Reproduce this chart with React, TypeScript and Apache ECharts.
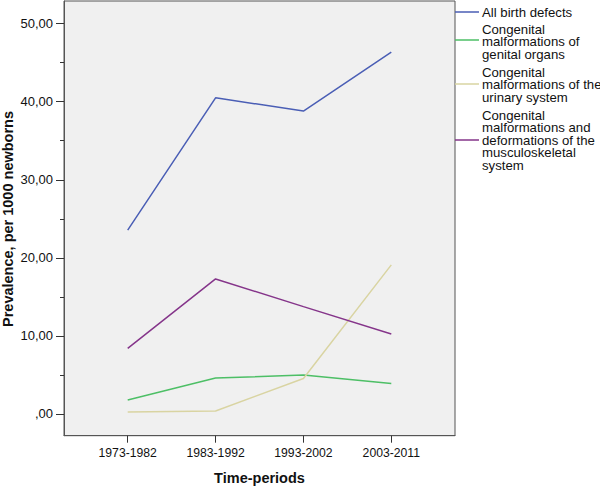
import React, { useEffect, useRef } from "react";
import * as echarts from "echarts";

const categories = ["1973-1982", "1983-1992", "1993-2002", "2003-2011"];
const seriesNames = [
  "All birth defects",
  "Congenital malformations of genital organs",
  "Congenital malformations of the urinary system",
  "Congenital malformations and deformations of the musculoskeletal system",
];
const legendLabels = [
  ["All birth defects"],
  ["Congenital", "malformations of", "genital organs"],
  ["Congenital", "malformations of the", "urinary system"],
  ["Congenital", "malformations and", "deformations of the", "musculoskeletal", "system"],
];
const yAxisTitle = "Prevalence, per 1000 newborns";
const xAxisTitle = "Time-periods";
const allBirthDefects = [23.55, 40.5, 38.8, 46.35];
const genitalOrgans = [1.8, 4.6, 5.0, 3.9];
const urinarySystem = [0.26, 0.38, 4.55, 19.1];
const musculoskeletal = [8.4, 17.3, 13.75, 10.25];
const yTicks = [0, 10, 20, 30, 40, 50];
const yMinorTicks = [5, 15, 25, 35, 45];
const xTicks = [0, 1, 2, 3];

const colors = ["#4A5EB5", "#4DBF66", "#D9D4A2", "#85358A"];
const FONT = "'Liberation Sans', Arial, sans-serif";

export default function App() {
  const ref = useRef<HTMLDivElement>(null);
  useEffect(() => {
    if (!ref.current) return;
    const chart = echarts.init(ref.current, null, { renderer: "svg" });
    const allSeries = [allBirthDefects, genitalOrgans, urinarySystem, musculoskeletal];
    const yMin = -2.78;
    const yMax = 52.9;
    const fmtY = (v: number) => (v === 0 ? ",00" : v.toFixed(2).replace(".", ","));

    // legend graphic
    const legendLineY = [12, 40, 84, 140];
    const legendFirstLineY = [12, 29, 72, 115];
    const lineStep = 12.6;
    const graphics: any[] = [];
    legendLabels.forEach((lines, i) => {
      graphics.push({
        type: "line",
        shape: { x1: 455, y1: legendLineY[i], x2: 479, y2: legendLineY[i] },
        style: { stroke: colors[i], lineWidth: 1.5 },
      });
      lines.forEach((t, k) => {
        graphics.push({
          type: "text",
          x: 482,
          y: legendFirstLineY[i] + k * lineStep,
          style: {
            text: t,
            fontFamily: FONT,
            fontSize: 13.2,
            lineHeight: 12,
            fill: "#111",
            verticalAlign: "middle",
            align: "left",
          },
        });
      });
    });
    graphics.push({
      type: "text",
      x: 8,
      y: 219,
      rotation: Math.PI / 2,
      style: {
        text: yAxisTitle,
        fontFamily: FONT,
        fontSize: 14.5,
        fontWeight: "bold",
        fill: "#111",
        align: "center",
        verticalAlign: "middle",
      },
    });

    chart.setOption({
      animation: false,
      backgroundColor: "#ffffff",
      grid: {
        left: 64,
        right: 145,
        top: 1,
        bottom: 51.3,
        outerBoundsMode: "none",
        containLabel: false,
        show: true,
        backgroundColor: "#F0F0F0",
        borderColor: "#555555",
        borderWidth: 1,
      },
      xAxis: {
        type: "value",
        min: -0.725,
        max: 3.725,
        name: xAxisTitle,
        nameLocation: "middle",
        nameGap: 35,
        nameTextStyle: { fontFamily: FONT, fontSize: 14.5, fontWeight: "bold", color: "#111" },
        splitLine: { show: false },
        axisLine: { show: true, onZero: false, lineStyle: { color: "#555555", width: 1 } },
        axisTick: { show: true, length: 7, customValues: xTicks, lineStyle: { color: "#333" } },
        axisLabel: {
          customValues: xTicks,
          margin: 11,
          fontFamily: FONT,
          fontSize: 12.2,
          color: "#111",
          formatter: (v: number) => categories[Math.round(v)] ?? "",
        },
      },
      yAxis: [
        {
          type: "value",
          min: yMin,
          max: yMax,
          splitLine: { show: false },
          axisLine: { show: true, onZero: false, lineStyle: { color: "#555555", width: 1 } },
          axisTick: { show: true, length: 8, customValues: yTicks, lineStyle: { color: "#333" } },
          axisLabel: {
            customValues: yTicks,
            margin: 11,
            fontFamily: FONT,
            fontSize: 13,
            color: "#111",
            formatter: fmtY,
          },
        },
        {
          type: "value",
          min: yMin,
          max: yMax,
          position: "left",
          splitLine: { show: false },
          axisLine: { show: false, onZero: false },
          axisTick: { show: true, length: 4, customValues: yMinorTicks, lineStyle: { color: "#333" } },
          axisLabel: { show: false },
        },
      ],
      series: allSeries.map((vals, i) => ({
        type: "line",
        name: seriesNames[i],
        yAxisIndex: 0,
        data: vals.map((v, j) => [j, v]),
        symbol: "none",
        lineStyle: { color: colors[i], width: 1.5 },
        itemStyle: { color: colors[i] },
      })),
      graphic: graphics,
    });
    return () => chart.dispose();
  }, []);
  return (
    <div
      ref={ref}
      style={{ position: "fixed", left: 0, top: 0, width: 600, height: 487 }}
    />
  );
}
